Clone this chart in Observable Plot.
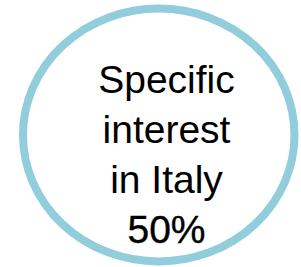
<!DOCTYPE html>
<html>
<head>
<meta charset="utf-8">
<script src="https://cdn.jsdelivr.net/npm/d3@7"></script>
<script src="https://cdn.jsdelivr.net/npm/@observablehq/plot@0.6"></script>
<style>
  html, body { margin: 0; padding: 0; background: #fff; }
  #chart svg { display: block; }
</style>
</head>
<body>
<div id="chart"></div>
<script>
const labelLines = ["Specific", "interest", "in Italy"];
const shareValue = "50%";

const rows = [...labelLines, shareValue];

const chart = Plot.plot({
  width: 301,
  height: 267,
  margin: 0,
  style: { background: "#fff", fontFamily: "Liberation Sans, Arial, sans-serif" },
  x: { axis: null, domain: [0, 1] },
  y: { axis: null, type: "point", domain: rows, range: [91, 243], padding: 0 },
  marks: [
    Plot.frame({
      stroke: "#92CDDC",
      strokeWidth: 8,
      fill: "#fff",
      insetLeft: 22.5,
      insetRight: 7,
      insetTop: 8,
      insetBottom: 6,
      rx: 135.75,
      ry: 126.5
    }),
    Plot.text(labelLines, {
      y: d => d,
      frameAnchor: "middle",
      dx: 15.5,
      lineAnchor: "bottom",
      text: d => d,
      fontSize: 39,
      fill: "#000",
      fontFamily: "Liberation Sans, Arial, sans-serif"
    }),
    Plot.text([shareValue], {
      y: d => d,
      frameAnchor: "middle",
      dx: 15.5,
      lineAnchor: "bottom",
      text: d => d,
      fontSize: 39,
      fill: "#000",
      stroke: "#000",
      strokeWidth: 0.4,
      fontFamily: "Liberation Sans, Arial, sans-serif"
    })
  ]
});
document.getElementById("chart").append(chart);
</script>
</body>
</html>
